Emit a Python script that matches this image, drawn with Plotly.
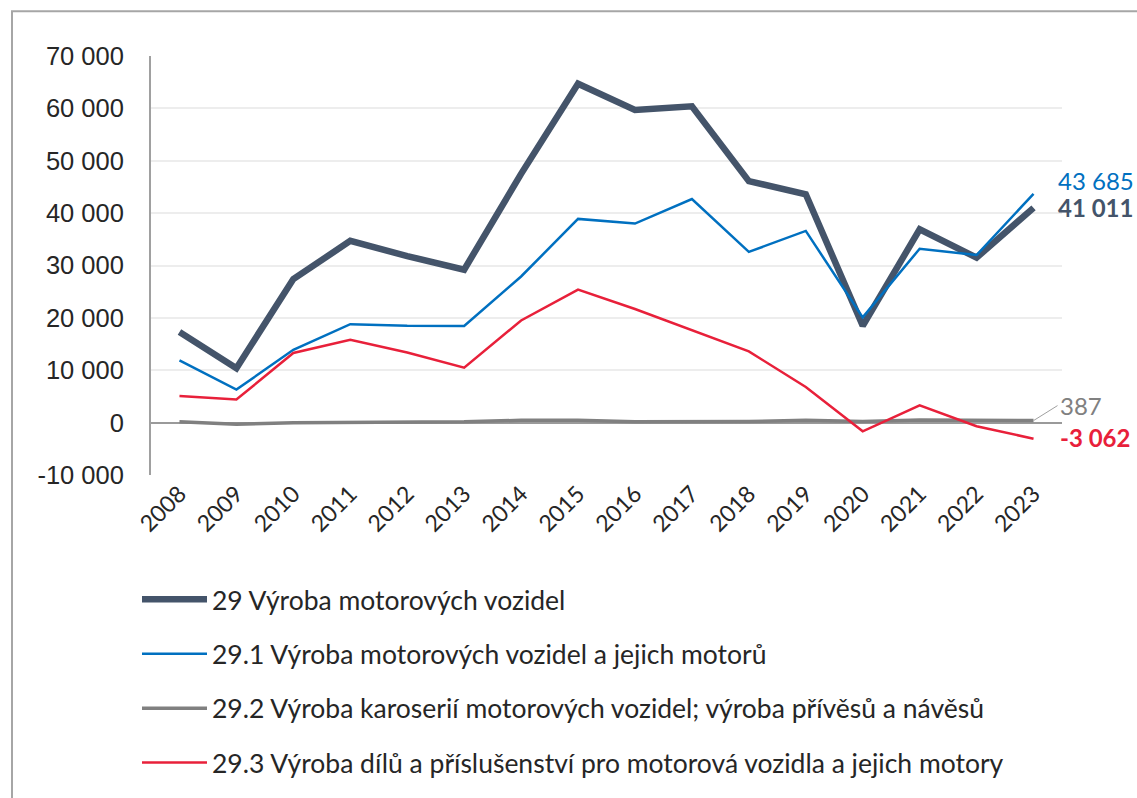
import plotly.graph_objects as go

years = [str(y) for y in range(2008, 2024)]
total_29 = [17300, 10400, 27400, 34700, 31800, 29200, 47500, 64700, 59700, 60400, 46100, 43600, 18500, 36900, 31500, 41011]
motor_291 = [11900, 6300, 13900, 18800, 18500, 18450, 27900, 38900, 38000, 42700, 32600, 36600, 20100, 33200, 32000, 43685]
karos_292 = [150, -300, 0, 100, 100, 150, 450, 450, 150, 150, 200, 450, 200, 500, 450, 387]
dily_293 = [5100, 4400, 13300, 15800, 13400, 10500, 19500, 25400, 21700, 17600, 13600, 6800, -1650, 3300, -700, -3062]

names = [
    "29 Výroba motorových vozidel",
    "29.1 Výroba motorových vozidel a jejich motorů",
    "29.2 Výroba karoserií motorových vozidel; výroba přívěsů a návěsů",
    "29.3 Výroba dílů a příslušenství pro motorová vozidla a jejich motory",
]
y_ticks = [-10000, 0, 10000, 20000, 30000, 40000, 50000, 60000, 70000]
y_tick_text = ["-10 000", "0", "10 000", "20 000", "30 000", "40 000", "50 000", "60 000", "70 000"]

c_dark = "#44546A"
c_blue = "#0070C0"
c_gray = "#808080"
c_red = "#E8203A"

series = [
    (total_29, c_dark, 6.5),
    (motor_291, c_blue, 2.5),
    (karos_292, c_gray, 3.5),
    (dily_293, c_red, 2.5),
]

fig = go.Figure()
for i, (vals, col, w) in enumerate(series):
    fig.add_trace(go.Scatter(
        x=years, y=vals, mode="lines", name=names[i],
        line=dict(color=col, width=w),
        legendgroup=f"g{i}",
    ))

def fmt(v):
    s = f"{abs(v):,}".replace(",", " ")
    return ("-" if v < 0 else "") + s

last = len(years) - 1
lab_font = "Lato, 'Open Sans', sans-serif"
fig.add_annotation(x=last, y=motor_291[-1], text=fmt(motor_291[-1]), showarrow=False,
                   xanchor="left", yanchor="middle", xshift=22, yshift=13,
                   font=dict(family=lab_font, size=24, color=c_blue))
fig.add_annotation(x=last, y=total_29[-1], text="<b>" + fmt(total_29[-1]) + "</b>", showarrow=False,
                   xanchor="left", yanchor="middle", xshift=22, yshift=0,
                   font=dict(family=lab_font, size=24, color=c_dark))
fig.add_annotation(x=last, y=karos_292[-1], text=fmt(karos_292[-1]), showarrow=True,
                   arrowhead=0, arrowwidth=1, arrowcolor="#A0A0A0", ax=24, ay=-15,
                   xanchor="left", yanchor="middle",
                   font=dict(family=lab_font, size=24, color=c_gray))
fig.add_annotation(x=last, y=dily_293[-1], text="<b>" + fmt(dily_293[-1]) + "</b>", showarrow=False,
                   xanchor="left", yanchor="middle", xshift=24, yshift=1,
                   font=dict(family=lab_font, size=24, color=c_red))

W, H = 1137, 798
L, R, T, B = 151, 75, 56, 321
pw, ph = W - L - R, H - T - B

def px(x):
    return (x - L) / pw

def py(y):
    return (H - B - y) / ph

fig.add_shape(type="rect", xref="paper", yref="paper",
              x0=px(12), x1=px(1145), y0=py(11), y1=py(805),
              line=dict(color="#A6A6A6", width=2), fillcolor="rgba(0,0,0,0)", layer="below")

fig.update_layout(
    width=W, height=H,
    margin=dict(l=L, r=R, t=T, b=B),
    paper_bgcolor="white", plot_bgcolor="white",
    showlegend=True,
    legend=dict(
        x=px(137), y=py(578), xanchor="left", yanchor="top",
        orientation="v", traceorder="grouped", tracegroupgap=17,
        itemwidth=65,
        font=dict(family="Lato, 'Open Sans', sans-serif", size=26.5, color="#262626"),
        bgcolor="rgba(0,0,0,0)",
    ),
    xaxis=dict(
        type="category", range=[-0.5, 15.5],
        showgrid=False, showline=False, ticks="",
        tickangle=-45,
        tickfont=dict(family="Lato, 'Open Sans', sans-serif", size=23, color="#262626"),
    ),
    yaxis=dict(
        range=[-10000, 70000],
        tickvals=y_ticks, ticktext=y_tick_text,
        showgrid=True, gridcolor="#EDEDED", gridwidth=1.5,
        zeroline=True, zerolinecolor="#9A9A9A", zerolinewidth=1.5,
        showline=True, linecolor="#A0A0A0", linewidth=2,
        ticks="", ticklabelstandoff=20,
        tickfont=dict(family="'Liberation Sans', Arial, sans-serif", size=25.5, color="#262626"),
    ),
)

fig.write_html("out.html", config={"displayModeBar": False},
               post_script="document.body.style.margin='0';document.body.style.overflow='hidden';")
